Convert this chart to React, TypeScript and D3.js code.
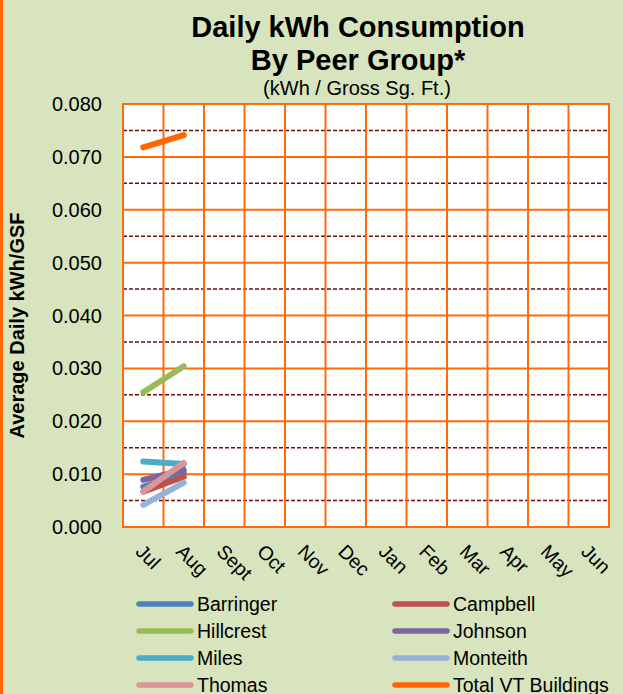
import React from "react";
import * as d3 from "d3";

const months = ["Jul", "Aug", "Sept", "Oct", "Nov", "Dec", "Jan", "Feb", "Mar", "Apr", "May", "Jun"];
const seriesNames = ["Barringer", "Campbell", "Hillcrest", "Johnson", "Miles", "Monteith", "Thomas", "Total VT Buildings"];
const seriesColors = ["#4F81BD", "#C0504D", "#9BBB59", "#8064A2", "#4BACC6", "#95B3D7", "#D99694", "#FF6600"];
const barringer = [0.0076, 0.0102];
const campbell = [0.0067, 0.0095];
const hillcrest = [0.0255, 0.0304];
const johnson = [0.0089, 0.0108];
const miles = [0.0124, 0.0119];
const monteith = [0.0042, 0.0084];
const thomas = [0.0067, 0.0121];
const totalVT = [0.0718, 0.0741];
const seriesValues = [barringer, campbell, hillcrest, johnson, miles, monteith, thomas, totalVT];
const majorTicks = [0, 0.01, 0.02, 0.03, 0.04, 0.05, 0.06, 0.07, 0.08];
const minorTicks = [0.005, 0.015, 0.025, 0.035, 0.045, 0.055, 0.065, 0.075];

const W = 623, H = 694;
const L = 123, R = 609, T = 104, B = 527;

export default function App() {
  const x = d3.scaleBand<string>().domain(months).range([L, R]).padding(0);
  const y = d3.scaleLinear().domain([0, 0.08]).range([B, T]);
  const bw = x.bandwidth();
  const cx = (m: string) => (x(m) as number) + bw / 2;
  const line = d3.line<number>().x((_, i) => cx(months[i])).y((v) => y(v));
  const font = "'Liberation Sans', Arial, sans-serif";
  const drawOrder = [0, 1, 2, 3, 4, 5, 6, 7];
  return (
    <svg width={W} height={H} style={{ position: "absolute", left: 0, top: 0, display: "block" }} fontFamily={font}>
      <rect x={0} y={0} width={W} height={H} fill="#D7E4BD" />
      <rect x={0} y={0} width={3} height={H} fill="#FF6600" />
      <text x={358} y={37} textAnchor="middle" fontSize={29} fontWeight="bold" fill="#000">Daily kWh Consumption</text>
      <text x={358} y={70} textAnchor="middle" fontSize={29} fontWeight="bold" fill="#000">By Peer Group*</text>
      <text x={357} y={95} textAnchor="middle" fontSize={20} fill="#000">(kWh / Gross Sg. Ft.)</text>
      <rect x={L} y={T} width={R - L} height={B - T} fill="#FFFFFF" />
      {minorTicks.map((t) => (
        <line key={"mi" + t} x1={L} x2={R} y1={y(t)} y2={y(t)} stroke="#6E0F0F" strokeWidth={1.6} strokeDasharray="4,2" />
      ))}
      {majorTicks.map((t) => (
        <line key={"ma" + t} x1={L} x2={R} y1={y(t)} y2={y(t)} stroke="#FF6A0D" strokeWidth={2} />
      ))}
      {months.map((m) => (
        <line key={"v" + m} x1={x(m)} x2={x(m)} y1={T} y2={B} stroke="#FF6A0D" strokeWidth={2} />
      ))}
      <rect x={L} y={T} width={R - L} height={B - T} fill="none" stroke="#FF6A0D" strokeWidth={2} />
      {majorTicks.map((t) => (
        <text key={"yl" + t} x={102} y={y(t)} dy="0.35em" textAnchor="end" fontSize={20} fill="#000">{t.toFixed(3)}</text>
      ))}
      <text transform={`translate(24,${(T + B) / 2 + 10}) rotate(-90)`} textAnchor="middle" fontSize={20} fontWeight="bold" fill="#000">Average Daily kWh/GSF</text>
      {months.map((m) => (
        <text key={"xl" + m} transform={`translate(${cx(m) + 1},${543}) rotate(45)`} textAnchor="start" dy="0.7em" fontSize={19.5} fill="#000">{m}</text>
      ))}
      {drawOrder.map((i) => (
        <path key={"s" + i} d={line(seriesValues[i]) as string} fill="none" stroke={seriesColors[i]} strokeWidth={6} strokeLinecap="round" />
      ))}
      {seriesNames.map((n, i) => {
        const col = i % 2;
        const row = Math.floor(i / 2);
        const lx = col === 0 ? 137 : 393;
        const ly = 604 + row * 27;
        return (
          <g key={"lg" + n}>
            <line x1={lx + 2} x2={lx + 54} y1={ly} y2={ly} stroke={seriesColors[i]} strokeWidth={5.5} strokeLinecap="round" />
            <text x={lx + 60} y={ly} dy="0.36em" fontSize={19.5} fill="#000">{n}</text>
          </g>
        );
      })}
    </svg>
  );
}
